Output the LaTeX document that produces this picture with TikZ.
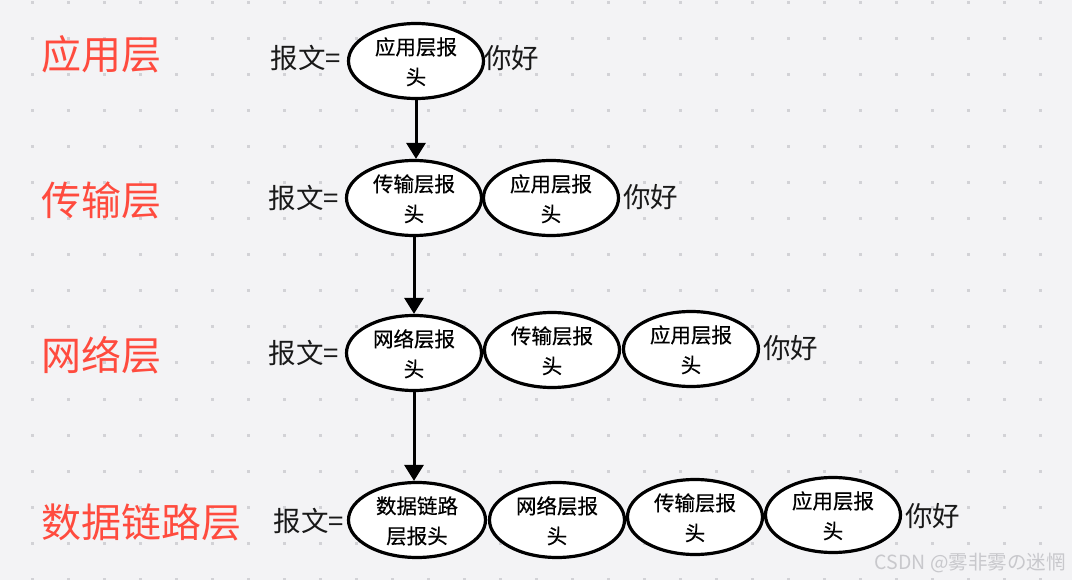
\documentclass[tikz,border=0pt]{standalone}
\usepackage{fontspec}
\setmainfont{Noto Sans CJK SC}
\newfontfamily\medfont[FakeBold=0.5]{Noto Sans CJK SC}
\usetikzlibrary{shapes.geometric,arrows.meta}
\definecolor{bg}{HTML}{F3F3F5}
\definecolor{dotc}{HTML}{D2D2D6}
\definecolor{lay}{HTML}{FF4B3E}
\definecolor{wm}{HTML}{C8C8CC}
\begin{document}
\begin{tikzpicture}[x=1pt,y=-1pt,
  hdr/.style={ellipse,draw=black,line width=3.2pt,fill=white,minimum width=135pt,minimum height=75pt,inner sep=0pt,align=center,font=\medfont\fontsize{20.5}{30}\selectfont,text depth=-6pt},
  layer/.style={text=lay,font=\fontsize{40}{40}\selectfont,inner sep=0pt,anchor=west},
  msg/.style={font=\fontsize{27.5}{27.5}\selectfont,inner sep=0pt,text=black!90},
  flow/.style={line width=3pt,-{Triangle[width=19pt,length=16pt]}}]
\fill[bg] (0,0) rectangle (1072,580);
\useasboundingbox (0,0) rectangle (1072,580);
\foreach \i in {0,...,29}{\foreach \j in {0,...,16}{
  \fill[dotc] ({32+36*\i-1.5},{3+36*\j-1.5}) rectangle ++(3,3);}}
% labels
\node[layer] (l1) at (41,54) {应用层};
\node[layer] (l2) at (41,200) {传输层};
\node[layer] (l3) at (41,355) {网络层};
\node[layer] (l4) at (41,522) {数据链路层};
% row 1
\node[hdr] (a1) at (416,61) {应用层报\\头};
\node[msg,anchor=east] (m1) at (341,58) {报文=};
\node[msg,anchor=west] (h1) at (484,58) {你好};
% row 2
\node[hdr] (b1) at (414,198) {传输层报\\头};
\node[hdr] (b2) at (551,198) {应用层报\\头};
\node[msg,anchor=east] (m2) at (339,198) {报文=};
\node[msg,anchor=west] (h2) at (623,197) {你好};
% row 3
\node[hdr] (c1) at (414,353) {网络层报\\头};
\node[hdr] (c2) at (552,350) {传输层报\\头};
\node[hdr] (c3) at (691,349) {应用层报\\头};
\node[msg,anchor=east] (m3) at (339,353) {报文=};
\node[msg,anchor=west] (h3) at (763,348) {你好};
% row 4
\node[hdr,minimum width=137pt] (d1) at (417,520) {数据链路\\层报头};
\node[hdr] (d2) at (557,520) {网络层报\\头};
\node[hdr] (d3) at (695,517) {传输层报\\头};
\node[hdr] (d4) at (833,515) {应用层报\\头};
\node[msg,anchor=east] (m4) at (344,521) {报文=};
\node[msg,anchor=west] (h4) at (905,516) {你好};
% arrows
\draw[flow] (a1.south) -- (a1.south |- b1.north);
\draw[flow] (b1.south) -- (c1.north);
\draw[flow] (c1.south) -- (c1.south |- d1.north);
% watermark
\node[text=wm,font=\fontsize{19.5}{19.5}\selectfont,inner sep=0pt,anchor=east] (w) at (1066,563) {CSDN @雾非雾の迷惘};
\end{tikzpicture}
\end{document}
